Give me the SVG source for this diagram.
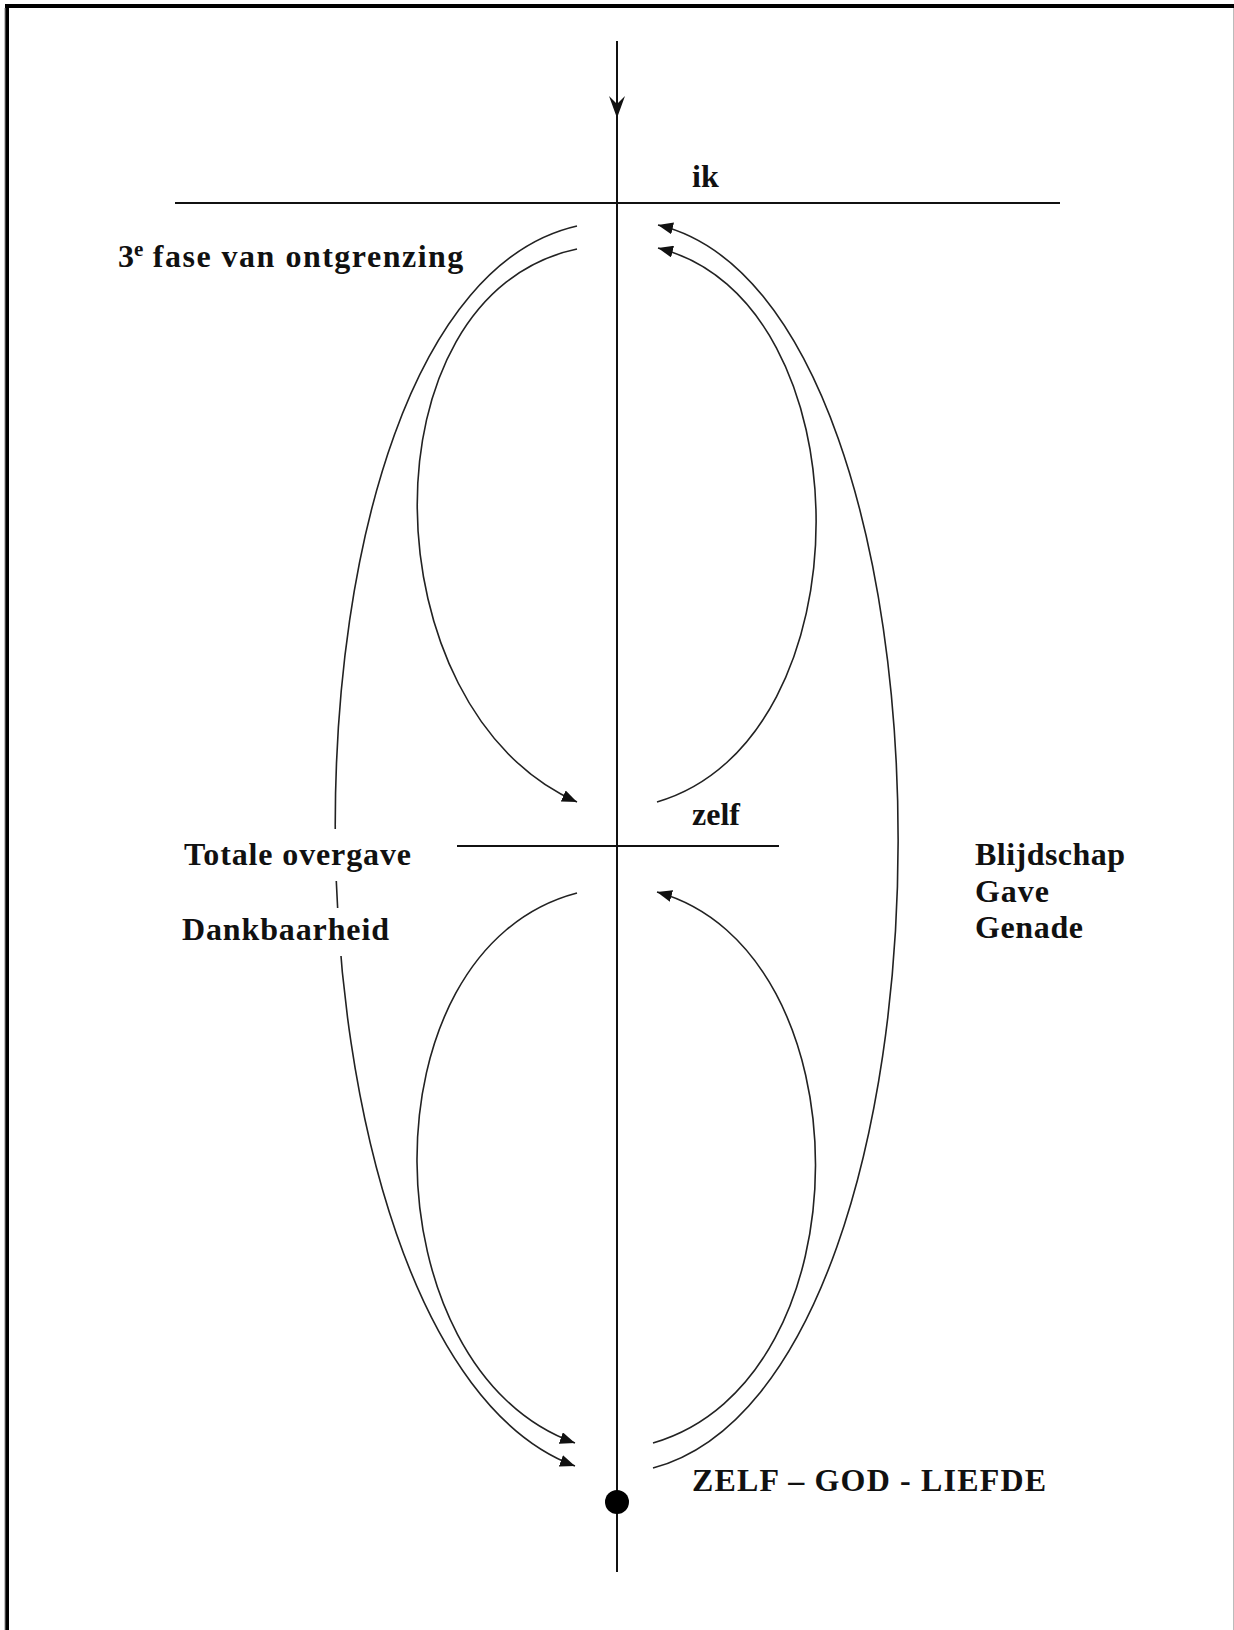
<svg xmlns="http://www.w3.org/2000/svg" width="1234" height="1630" viewBox="0 0 1234 1630">
<style>
  .lbl { font-family: "Liberation Serif", "Times New Roman", serif; font-weight: bold; font-size: 32px; fill: #111; }
  .axis { stroke: #111; stroke-width: 2; fill: none; }
  .curve { stroke: #222; stroke-width: 1.6; fill: none; marker-end: url(#ah); }
</style>
<defs>
  <marker id="ah" markerUnits="userSpaceOnUse" markerWidth="16" markerHeight="12" refX="15" refY="6" orient="auto">
    <path d="M0,0 L15,6 L0,12 Z" fill="#111"/>
  </marker>
</defs>
<rect x="0" y="0" width="1234" height="1630" fill="#fff"/>
<g id="frame">
  <path d="M7,1630 L7,6 L1234,6" fill="none" stroke="#000" stroke-width="4"/>
  <line x1="5" y1="8" x2="5" y2="1630" stroke="#888" stroke-width="1"/>
  <line x1="1233.5" y1="8" x2="1233.5" y2="1630" stroke="#bbb" stroke-width="1"/>
</g>
<g id="connectors">
  <line class="axis" x1="617" y1="41" x2="617" y2="1572"/>
  <path d="M617,118 L609,96 L617,104 L625,96 Z" fill="#111"/>
  <line class="axis" x1="175" y1="203" x2="1060" y2="203"/>
  <line class="axis" x1="457" y1="846" x2="779" y2="846"/>
  <path class="curve" d="M577,249 C 360,295 368,710 577,802"/>
  <path class="curve" d="M577,226 C 250,300 260,1350 575,1466"/>
  <path class="curve" d="M657,802 C 870,740 868,300 658,248"/>
  <path class="curve" d="M653,1468 C 980,1380 978,300 658,225"/>
  <path class="curve" d="M577,893 C 360,950 368,1370 575,1443"/>
  <path class="curve" d="M653,1443 C 870,1380 868,950 657,892"/>
</g>
<g id="node-dot"><circle cx="617" cy="1502" r="12" fill="#000"/></g>
<g id="node-ik"><text class="lbl" x="692" y="187">ik</text></g>
<g id="node-zelf"><text class="lbl" x="692" y="825">zelf</text></g>
<g id="node-fase"><text class="lbl" x="118" y="267">3<tspan font-size="21" dy="-11">e</tspan><tspan dy="11" textLength="320" lengthAdjust="spacing"> fase van ontgrenzing</tspan></text></g>
<g id="node-totale">
  <rect x="325" y="829" width="20" height="52" fill="#fff"/>
  <text class="lbl" x="184" y="865" textLength="227" lengthAdjust="spacing">Totale overgave</text>
</g>
<g id="node-dankbaarheid">
  <rect x="325" y="908" width="20" height="48" fill="#fff"/>
  <text class="lbl" x="182" y="940" textLength="207" lengthAdjust="spacing">Dankbaarheid</text>
</g>
<g id="node-blijdschap">
  <text class="lbl" x="975" y="865" textLength="150" lengthAdjust="spacing">Blijdschap</text>
  <text class="lbl" x="975" y="902" textLength="74" lengthAdjust="spacing">Gave</text>
  <text class="lbl" x="975" y="938" textLength="108" lengthAdjust="spacing">Genade</text>
</g>
<g id="node-zelfgod"><text class="lbl" x="692" y="1491" textLength="354" lengthAdjust="spacing">ZELF – GOD - LIEFDE</text></g>
</svg>
